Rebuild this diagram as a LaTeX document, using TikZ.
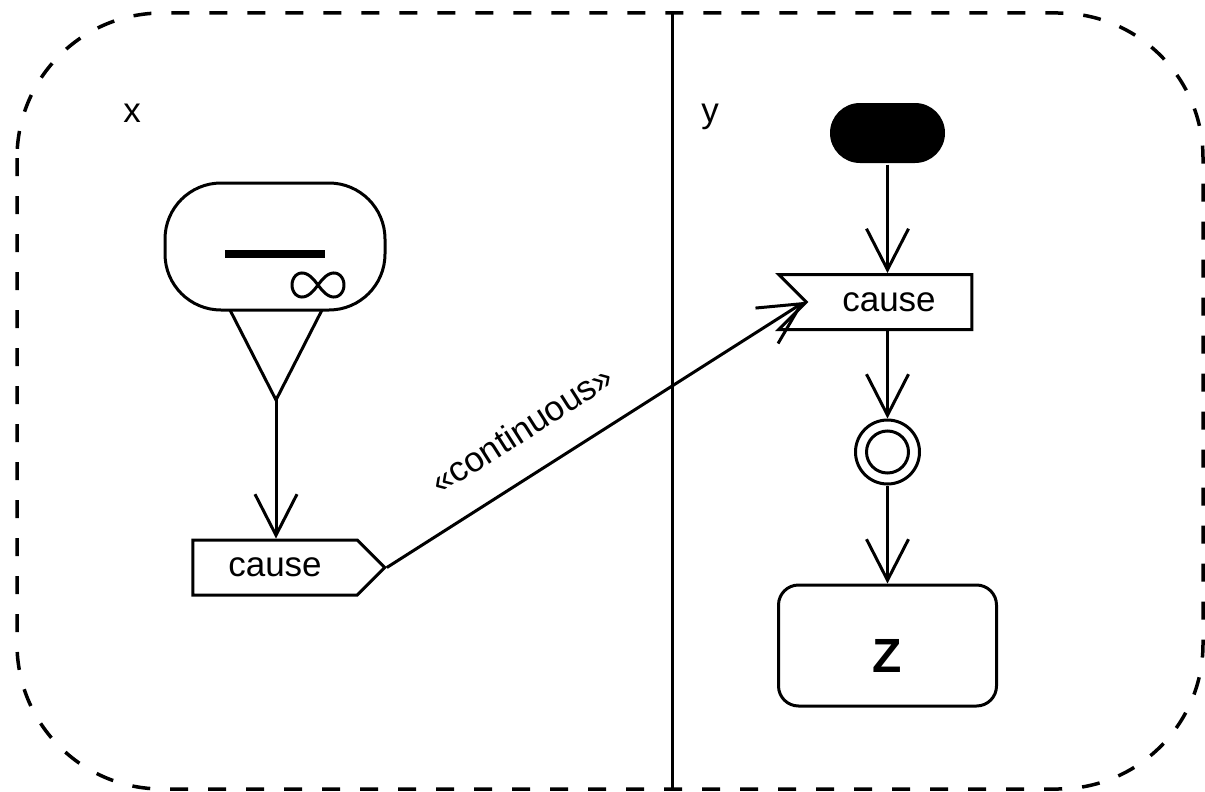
\documentclass[tikz,border=0pt]{standalone}
\usepackage{fontspec}
\setmainfont{Liberation Sans}
\usetikzlibrary{arrows.meta,shapes.symbols,positioning}

\begin{document}
\begin{tikzpicture}[x=1pt, y=-1pt, line width=3pt,
  flow/.style={-{Straight Barb[length=41pt,width=42pt]}},
  sig/.style={draw, signal, signal pointer angle=90, minimum height=55pt, inner sep=0pt, font=\fontsize{35}{42}\selectfont},
  lab/.style={anchor=base, font=\fontsize{35}{42}\selectfont}]
\useasboundingbox (0,0) rectangle (1205,792);
% frame and partition
\draw[dash pattern=on 18pt off 20pt, rounded corners=145pt, line width=3.5pt] (17,13) rectangle (1203,789);
\draw (672,13) -- (672,789);
\node[lab] (xlab) at (132,122) {x};
\node[lab] (ylab) at (710,122) {y};
% left partition
\draw (230,310) -- (276,400) -- (322,310);
\node[draw, fill=white, rounded corners=56pt, minimum width=220pt, minimum height=127pt] (stream) at (275,246.5) {};
\draw[line width=8pt] (225,254) -- (325,254);
\draw plot[domain=0:360, samples=100] ({318+26*cos(\x)/(1+sin(\x)^2)}, {285+34*sin(\x)*cos(\x)/(1+sin(\x)^2)});
\coordinate (pin) at (276,400);
\node[sig, signal to=east, minimum width=192pt] (send) at (275,567.5) {cause};
\draw[flow] (pin) -- (pin |- send.north);
% right partition
\node[fill, rounded corners=30pt, minimum width=115pt, minimum height=60pt, inner sep=0pt] (init) at (887.5,133) {};
\node[sig, signal to=nowhere, signal from=west, minimum width=193pt] (accept) at (889,302) {cause};
\node[circle, draw, minimum size=64pt, inner sep=0pt] (ffinal) at (887.5,452) {};
\draw (ffinal.center) circle[radius=21];
\node[draw, rounded corners=20pt, minimum width=218pt, minimum height=121pt, text height=54pt, text depth=0pt, font=\bfseries\fontsize{48}{58}\selectfont] (z) at (887.5,645.5) {Z};
\draw[flow] (init.south) -- (init.south |- accept.north);
\draw[flow] (ffinal.north |- accept.south) -- (ffinal.north);
\draw[flow] (ffinal.south) -- (z.north);
\draw[flow] (send.east) -- (accept.west) node[pos=0.38, sloped, above=27pt, font=\fontsize{35}{42}\selectfont] {«continuous»};
\end{tikzpicture}
\end{document}
